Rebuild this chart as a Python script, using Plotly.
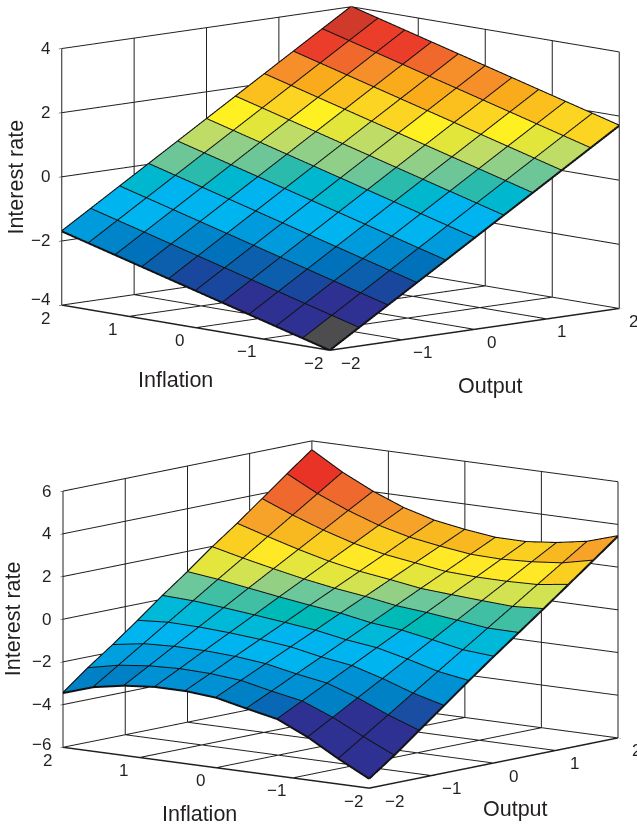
import plotly.graph_objects as go

# Grid coordinates
inflation = [-2.0, -1.6, -1.2, -0.8, -0.4, 0.0, 0.4, 0.8, 1.2, 1.6, 2.0]
output = [-2.0, -1.6, -1.2, -0.8, -0.4, 0.0, 0.4, 0.8, 1.2, 1.6, 2.0]
axis_ticks = [-2, -1, 0, 1, 2]
z_ticks_top = [-4, -2, 0, 2, 4]
z_ticks_bottom = [-6, -4, -2, 0, 2, 4, 6]

# Interest rate; rows = inflation, columns = output
rate_top = [
    [-4.00, -3.43, -2.86, -2.29, -1.72, -1.15, -0.58, -0.01, 0.56, 1.13, 1.70],
    [-3.77, -3.20, -2.63, -2.06, -1.49, -0.92, -0.35, 0.22, 0.79, 1.36, 1.93],
    [-3.54, -2.97, -2.40, -1.83, -1.26, -0.69, -0.12, 0.45, 1.02, 1.59, 2.16],
    [-3.31, -2.74, -2.17, -1.60, -1.03, -0.46, 0.11, 0.68, 1.25, 1.82, 2.39],
    [-3.08, -2.51, -1.94, -1.37, -0.80, -0.23, 0.34, 0.91, 1.48, 2.05, 2.62],
    [-2.85, -2.28, -1.71, -1.14, -0.57, 0.00, 0.57, 1.14, 1.71, 2.28, 2.85],
    [-2.62, -2.05, -1.48, -0.91, -0.34, 0.23, 0.80, 1.37, 1.94, 2.51, 3.08],
    [-2.39, -1.82, -1.25, -0.68, -0.11, 0.46, 1.03, 1.60, 2.17, 2.74, 3.31],
    [-2.16, -1.59, -1.02, -0.45, 0.12, 0.69, 1.26, 1.83, 2.40, 2.97, 3.54],
    [-1.93, -1.36, -0.79, -0.22, 0.35, 0.92, 1.49, 2.06, 2.63, 3.20, 3.77],
    [-1.70, -1.13, -0.56, 0.01, 0.58, 1.15, 1.72, 2.29, 2.86, 3.43, 4.00],
]
rate_bottom = [
    [-5.56, -4.71, -3.78, -2.85, -1.92, -1.02, -0.14, 0.74, 1.64, 2.54, 3.45],
    [-4.82, -4.04, -3.26, -2.47, -1.69, -0.91, -0.13, 0.65, 1.44, 2.22, 3.00],
    [-4.00, -3.33, -2.65, -1.98, -1.30, -0.63, 0.05, 0.73, 1.40, 2.08, 2.75],
    [-3.34, -2.75, -2.15, -1.56, -0.96, -0.37, 0.22, 0.82, 1.41, 2.01, 2.60],
    [-3.04, -2.48, -1.91, -1.35, -0.78, -0.22, 0.35, 0.92, 1.48, 2.05, 2.61],
    [-2.72, -2.17, -1.62, -1.07, -0.52, 0.04, 0.59, 1.14, 1.69, 2.24, 2.79],
    [-2.60, -2.04, -1.47, -0.91, -0.35, 0.22, 0.78, 1.34, 1.90, 2.47, 3.03],
    [-2.60, -2.00, -1.39, -0.79, -0.19, 0.42, 1.02, 1.62, 2.22, 2.83, 3.43],
    [-2.73, -2.06, -1.38, -0.71, -0.04, 0.64, 1.31, 1.98, 2.65, 3.33, 4.00],
    [-2.99, -2.22, -1.45, -0.68, 0.09, 0.86, 1.62, 2.39, 3.16, 3.93, 4.70],
    [-3.46, -2.53, -1.68, -0.78, 0.15, 1.03, 1.96, 2.82, 3.74, 4.67, 5.56],
]

# Upper limit of each colour band, and the band's colour
bands_top = [-3.5, -2.7, -2.4, -2.1, -1.85, -1.6, -1.3, -0.4, -0.1, 0.15, 0.4, 0.7, 1.0, 1.25, 1.5, 1.8, 2.1, 2.4, 2.7, 3.0, 3.5, 9]
colors_top = ["#4d4d4f", "#2e3192", "#1a479e", "#0b5fad", "#0072bc", "#0085cb", "#009bdc", "#00b4ef", "#00b7d0",
              "#2bbbad", "#6dc698", "#90cf88", "#bfdc66", "#e3e63a", "#fff021", "#fcd422", "#fbc01e", "#f9ab1c",
              "#f68f2a", "#f1682c", "#ea3e2b", "#d1392a"]
bands_bottom = [-3.2, -3.0, -2.85, -2.4, -2.0, -1.5, -0.7, -0.3, 0.1, 0.4, 0.7, 0.95, 1.15, 1.5, 1.9, 2.4, 2.7, 3.1, 3.7, 4.3, 9]
colors_bottom = ["#2e3192", "#1a4ea2", "#0868b5", "#0080c5", "#0090d4", "#00a0e0", "#00b4ef", "#00b8d8", "#00bab8",
                 "#40bfa5", "#6cc79a", "#94d084", "#d2e250", "#e4e63d", "#ffe825", "#fbcf22", "#f8b820", "#f7a32a",
                 "#f18a2f", "#ef682e", "#ea3327"]

INK = "#231f20"


def band_color(value, bands, colors):
    for limit, color in zip(bands, colors):
        if value < limit:
            return color
    return colors[-1]


def surface_traces(rate, bands, colors, scene):
    n_i, n_j = len(inflation), len(output)
    xs, ys, zs, a, b, c, faces = [], [], [], [], [], [], []
    for i in range(n_i):
        for j in range(n_j):
            xs.append(output[j])
            ys.append(inflation[i])
            zs.append(rate[i][j])
    for i in range(n_i - 1):
        for j in range(n_j - 1):
            p = i * n_j + j
            mean = (rate[i][j] + rate[i][j + 1] + rate[i + 1][j] + rate[i + 1][j + 1]) / 4
            col = band_color(mean, bands, colors)
            a += [p, p]
            b += [p + 1, p + n_j + 1]
            c += [p + n_j + 1, p + n_j]
            faces += [col, col]
    mesh = go.Mesh3d(x=xs, y=ys, z=zs, i=a, j=b, k=c, facecolor=faces, flatshading=True,
                     lighting=dict(ambient=1, diffuse=0, specular=0, roughness=1, fresnel=0),
                     hoverinfo="skip", showscale=False, scene=scene)
    lx, ly, lz = [], [], []
    for i in range(n_i):
        lx += output + [None]
        ly += [inflation[i]] * n_j + [None]
        lz += rate[i] + [None]
    for j in range(n_j):
        lx += [output[j]] * n_i + [None]
        ly += inflation + [None]
        lz += [rate[i][j] for i in range(n_i)] + [None]
    lines = go.Scatter3d(x=lx, y=ly, z=lz, mode="lines", line=dict(color="#111111", width=4),
                         hoverinfo="skip", showlegend=False, scene=scene)
    return [mesh, lines]


def frame_traces(zticks, scene):
    """Grid lines on the floor and the two back walls, drawn at the tick values."""
    lo, hi = axis_ticks[0], axis_ticks[-1]
    zmin, zmax = zticks[0], zticks[-1]
    lx, ly, lz = [], [], []

    def seg(x0, y0, z0, x1, y1, z1):
        lx.extend([x0, x1, None])
        ly.extend([y0, y1, None])
        lz.extend([z0, z1, None])

    for v in axis_ticks:
        seg(v, lo, zmin, v, hi, zmin)
        seg(lo, v, zmin, hi, v, zmin)
        seg(v, hi, zmin, v, hi, zmax)
        seg(hi, v, zmin, hi, v, zmax)
    for t in zticks:
        seg(lo, hi, t, hi, hi, t)
        seg(hi, lo, t, hi, hi, t)
    grid = go.Scatter3d(x=lx, y=ly, z=lz, mode="lines", line=dict(color=INK, width=2),
                        hoverinfo="skip", showlegend=False, scene=scene)
    edge = go.Scatter3d(x=[lo, lo, hi], y=[hi, lo, lo], z=[zmin, zmin, zmin], mode="lines",
                        line=dict(color=INK, width=3), hoverinfo="skip", showlegend=False, scene=scene)
    return [grid, edge]


def tick_text(v):
    return str(v).replace("-", "\u2212")


def scene_layout(domain_x, domain_y, eye, aspect, zticks, out_shift, low_shift, titles):
    zmin, zmax = zticks[0], zticks[-1]
    text = dict(showarrow=False, font=dict(family="Liberation Sans", size=17, color=INK))
    title_font = dict(family="Liberation Sans", size=21.5, color=INK)
    notes = []
    for v, dx in zip(axis_ticks, out_shift):
        notes.append(dict(text, x=-2, y=v, z=zmin, text=tick_text(v), xshift=-16, yshift=-13))
        notes.append(dict(text, x=v, y=-2, z=zmin, text=tick_text(v), xshift=dx, yshift=-13))
    for v in zticks:
        notes.append(dict(text, x=-2, y=2, z=v, text=tick_text(v), xanchor="right", xshift=-10,
                          yshift=low_shift if v == zmin else 0))
    notes.append(dict(showarrow=False, font=title_font, x=-2, y=0, z=zmin, text="Inflation",
                      xshift=titles[0][0], yshift=titles[0][1]))
    notes.append(dict(showarrow=False, font=title_font, x=0, y=-2, z=zmin, text="Output",
                      xshift=titles[1][0], yshift=titles[1][1]))
    notes.append(dict(showarrow=False, font=title_font, x=-2, y=2, z=(zmin + zmax) / 2, text="Interest rate",
                      textangle=-90, xshift=titles[2], yshift=0))
    ax = dict(showbackground=False, showspikes=False, showticklabels=False, title=dict(text=""),
              showgrid=False, zeroline=False, showline=False, ticks="outside", ticklen=4,
              tickcolor=INK, tickwidth=1)
    return dict(
        domain=dict(x=domain_x, y=domain_y),
        aspectmode="manual", aspectratio=aspect,
        camera=dict(eye=eye, center=dict(x=0, y=0, z=0), up=dict(x=0, y=0, z=1),
                    projection=dict(type="orthographic")),
        xaxis=dict(ax, range=[-2, 2], tickvals=axis_ticks),
        yaxis=dict(ax, range=[-2, 2], tickvals=axis_ticks),
        zaxis=dict(ax, range=[zmin, zmax], tickvals=zticks),
        annotations=notes,
    )


R = 2.0
W, H = 637, 825
fig = go.Figure(frame_traces(z_ticks_top, "scene")
                + surface_traces(rate_top, bands_top, colors_top, "scene")
                + frame_traces(z_ticks_bottom, "scene2")
                + surface_traces(rate_bottom, bands_bottom, colors_bottom, "scene2"))
fig.update_layout(
    width=W, height=H, margin=dict(l=0, r=0, t=0, b=0, pad=0), paper_bgcolor="white", showlegend=False,
    scene=scene_layout([44 / W, 1], [1 - 357 / H, 1], dict(x=-0.671 * R, y=-0.725 * R, z=0.156 * R),
                       dict(x=2.21, y=2.21, z=1.455), z_ticks_top, [21, 20, 17, 15, 14], 6,
                       [(-20, -52), (16, -57), -46]),
    scene2=scene_layout([44 / W, 1], [1 - 793 / H, 1 - 436 / H], dict(x=-0.765 * R, y=-0.622 * R, z=0.164 * R),
                        dict(x=2.21, y=2.21, z=1.455), z_ticks_bottom, [25, 20, 20, 19, 19], 3,
                        [(-17, -46), (22, -46), -50]),
)
fig.write_html("out.html", config=dict(displayModeBar=False), post_script="document.body.style.margin='0';")
